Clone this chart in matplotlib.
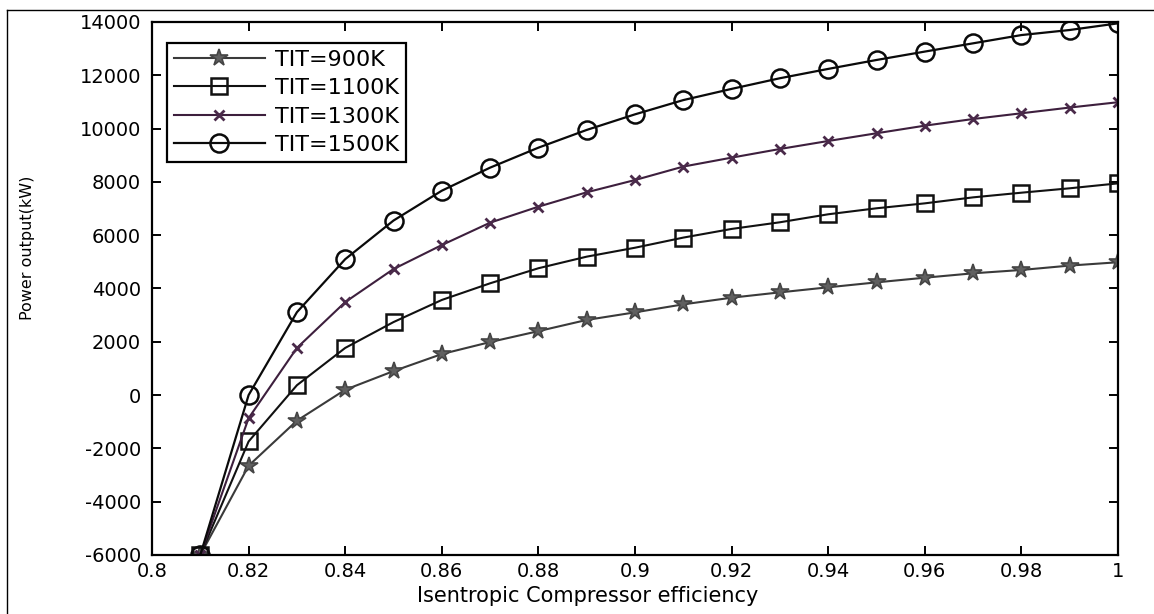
import matplotlib
matplotlib.use("Agg")
import matplotlib.pyplot as plt
from matplotlib.lines import Line2D
from matplotlib.ticker import FuncFormatter

efficiency = [0.81, 0.82, 0.83, 0.84, 0.85, 0.86, 0.87, 0.88, 0.89, 0.90,
              0.91, 0.92, 0.93, 0.94, 0.95, 0.96, 0.97, 0.98, 0.99, 1.00]
tit_900 = [-6000, -2650, -960, 200, 900, 1540, 1990, 2400, 2820, 3105,
           3405, 3655, 3855, 4045, 4230, 4405, 4570, 4695, 4860, 4985]
tit_1100 = [-6000, -1740, 370, 1770, 2740, 3570, 4195, 4760, 5195, 5530,
            5910, 6235, 6485, 6785, 7010, 7195, 7420, 7595, 7760, 7945]
tit_1300 = [-6000, -865, 1770, 3490, 4730, 5630, 6470, 7070, 7610, 8070,
            8575, 8910, 9235, 9535, 9825, 10110, 10360, 10575, 10790, 10990]
tit_1500 = [-6000, 0, 3110, 5100, 6550, 7670, 8535, 9285, 9950, 10535,
            11070, 11490, 11890, 12240, 12575, 12890, 13200, 13510, 13700, 13950]
labels = ["TIT=900K", "TIT=1100K", "TIT=1300K", "TIT=1500K"]
x_ticks = [0.8, 0.82, 0.84, 0.86, 0.88, 0.9, 0.92, 0.94, 0.96, 0.98, 1.0]
y_ticks = [-6000, -4000, -2000, 0, 2000, 4000, 6000, 8000, 10000, 12000, 14000]

plt.rcParams['font.family'] = ['DejaVu Sans']

W, H = 1154, 614
fig = plt.figure(figsize=(W / 100, H / 100), dpi=100, facecolor='white')
ax = fig.add_axes([152 / W, 1 - 555 / H, (1118 - 152) / W, (555 - 22) / H])

ax.plot(efficiency, tit_900, color='#3a3a3a', lw=1.5, marker='*', ms=13,
        mfc='#606060', mec='#454545', mew=1.2, label=labels[0])
ax.plot(efficiency, tit_1100, color='#111111', lw=1.5, marker='s', ms=12,
        mfc='none', mec='#111111', mew=1.8, label=labels[1])
ax.plot(efficiency, tit_1300, color='#3d1f3d', lw=1.5, marker='x', ms=7,
        mec='#4a2a4a', mew=2.0, label=labels[2])
ax.plot(efficiency, tit_1500, color='#0a0a0a', lw=1.6, marker='o', ms=13,
        mfc='none', mec='#0a0a0a', mew=1.8, label=labels[3])

ax.set_xlim(0.8, 1.0)
ax.set_ylim(-6000, 14000)
ax.set_xticks(x_ticks)
ax.set_yticks(y_ticks)
ax.xaxis.set_major_formatter(FuncFormatter(lambda v, p: ('%g' % round(v, 4))))
ax.yaxis.set_major_formatter(FuncFormatter(lambda v, p: ('%d' % round(v))))
ax.tick_params(direction='in', length=6.5, width=1.4, top=True, right=True,
               labelsize=14, colors='black')
ax.tick_params(axis='x', pad=5)
ax.tick_params(axis='y', pad=8)
for s in ax.spines.values():
    s.set_linewidth(1.6)
    s.set_color('black')

ax.set_xlabel("Isentropic Compressor efficiency", fontsize=15, va='top')
ax.xaxis.set_label_coords((588 - 152) / 966, (555 - 586) / 533)
ax.set_ylabel("Power output(kW)", fontsize=11.5, va='center')
ax.yaxis.set_label_coords((28 - 152) / 966, (555 - 248) / 533)

leg = ax.legend(loc='upper left', bbox_to_anchor=(167 / W, 1 - 43 / H),
                bbox_transform=fig.transFigure, borderaxespad=0,
                fontsize=16, handlelength=4.1, handletextpad=0.45,
                labelspacing=0.38, borderpad=0.3, fancybox=False,
                framealpha=1, edgecolor='black')
leg.get_frame().set_linewidth(1.6)

# outer frame of the picture
fig.add_artist(Line2D([7 / W, 7 / W], [0, 1 - 10 / H], transform=fig.transFigure,
                      color='black', lw=1.0))
fig.add_artist(Line2D([7 / W, 1], [1 - 10 / H, 1 - 10 / H], transform=fig.transFigure,
                      color='black', lw=1.0))

fig.savefig("out.png", dpi=100, facecolor='white')
